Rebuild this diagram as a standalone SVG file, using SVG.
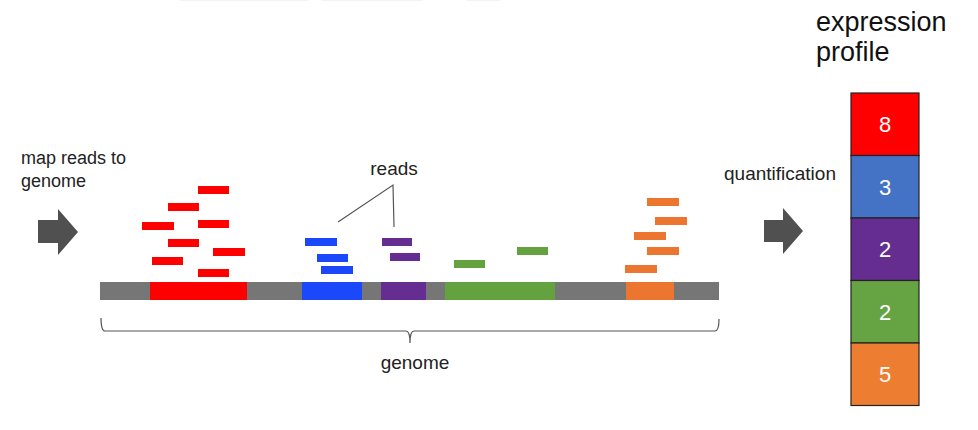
<svg xmlns="http://www.w3.org/2000/svg" width="978" height="430" viewBox="0 0 978 430">
<style>
  text { font-family: "Liberation Sans", Arial, sans-serif; fill: #222; }
  .lbl { font-size: 19px; }
  .num { font-size: 22px; fill: #fff; text-anchor: middle; }
  .title { font-size: 27px; fill: #111; }
  .red { fill: #ff0000; }
  .blue { fill: #1a48fa; }
  .purple { fill: #652d91; }
  .green { fill: #63a23f; }
  .orange { fill: #ec7530; }
  .arrow { fill: #505050; }
  .line { fill: none; stroke: #555; stroke-width: 1.2; }
  .box { stroke: #222; stroke-width: 1.2; }
</style>
<rect width="978" height="430" fill="#fff"/>
<g id="top-marks" stroke="#f3f3f3" stroke-width="1">
  <line x1="180" y1="0.5" x2="308" y2="0.5"/>
  <line x1="321" y1="0.5" x2="423" y2="0.5"/>
  <line x1="467" y1="0.5" x2="500" y2="0.5"/>
</g>
<g id="map-label">
  <text class="lbl" x="21" y="164" style="font-size:18px">map reads to</text>
  <text class="lbl" x="21" y="187" style="font-size:18px">genome</text>
</g>
<g id="arrow-left">
  <polygon class="arrow" points="38,220 58,220 58,209 78,232 58,255 58,243 38,243"/>
</g>
<g id="genome-bar">
  <rect x="100" y="282" width="619" height="18" fill="#767676"/>
  <rect class="red" x="150" y="282" width="97" height="18"/>
  <rect class="blue" x="302" y="282" width="60" height="18"/>
  <rect class="purple" x="381" y="282" width="45" height="18"/>
  <rect class="green" x="445" y="282" width="110" height="18"/>
  <rect class="orange" x="626" y="282" width="48" height="18"/>
</g>
<g id="reads-red" class="red">
  <rect x="198" y="186" width="31" height="8"/>
  <rect x="168" y="203" width="31" height="8"/>
  <rect x="142" y="222" width="32" height="8"/>
  <rect x="198" y="220" width="31" height="8"/>
  <rect x="168" y="239" width="31" height="8"/>
  <rect x="213" y="248" width="32" height="8"/>
  <rect x="152" y="257" width="31" height="8"/>
  <rect x="198" y="269" width="31" height="8"/>
</g>
<g id="reads-blue" class="blue">
  <rect x="305" y="238" width="32" height="8"/>
  <rect x="317" y="254" width="31" height="8"/>
  <rect x="321" y="266" width="32" height="8"/>
</g>
<g id="reads-purple" class="purple">
  <rect x="382" y="238" width="30" height="8"/>
  <rect x="390" y="253" width="30" height="8"/>
</g>
<g id="reads-green" class="green">
  <rect x="454" y="260" width="31" height="8"/>
  <rect x="517" y="247" width="31" height="8"/>
</g>
<g id="reads-orange" class="orange">
  <rect x="647" y="198" width="32" height="8"/>
  <rect x="655" y="217" width="32" height="8"/>
  <rect x="634" y="232" width="32" height="8"/>
  <rect x="647" y="247" width="32" height="8"/>
  <rect x="625" y="265" width="32" height="8"/>
</g>
<g id="reads-label">
  <text class="lbl" x="394" y="175" text-anchor="middle">reads</text>
</g>
<g id="connectors">
  <polyline class="line" points="338,222 393,185 394,227"/>
  <path class="line" d="M101,318 Q101,331 105,331 L406,331 Q410,331 410,343 Q410,331 414,331 L715,331 Q719,331 719,319"/>
</g>
<g id="genome-label">
  <text class="lbl" x="415" y="369" text-anchor="middle">genome</text>
</g>
<g id="quant-label">
  <text class="lbl" x="724" y="180">quantification</text>
</g>
<g id="arrow-right">
  <polygon class="arrow" points="764,220 783,220 783,208 803,231 783,254 783,242 764,242"/>
</g>
<g id="profile-title">
  <text class="title" x="816" y="31">expression</text>
  <text class="title" x="816" y="61">profile</text>
</g>
<g id="profile">
  <g id="p-red"><rect class="box" x="851" y="93" width="68" height="62.5" fill="#ff0000"/><text class="num" x="885" y="132">8</text></g>
  <g id="p-blue"><rect class="box" x="851" y="155.5" width="68" height="62.5" fill="#4472c4"/><text class="num" x="885" y="194.5">3</text></g>
  <g id="p-purple"><rect class="box" x="851" y="218" width="68" height="62.5" fill="#662d91"/><text class="num" x="885" y="257">2</text></g>
  <g id="p-green"><rect class="box" x="851" y="280.5" width="68" height="62.5" fill="#66a342"/><text class="num" x="885" y="319.5">2</text></g>
  <g id="p-orange"><rect class="box" x="851" y="343" width="68" height="62.5" fill="#ed7d31"/><text class="num" x="885" y="382">5</text></g>
</g>
</svg>
